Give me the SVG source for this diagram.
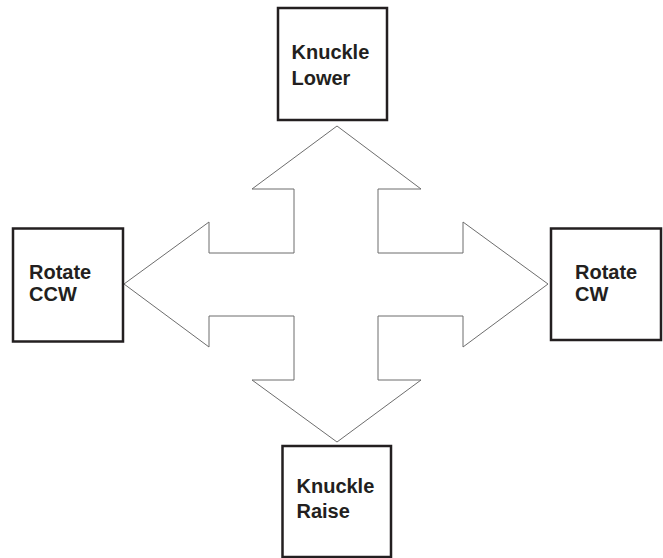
<svg xmlns="http://www.w3.org/2000/svg" width="663" height="558" viewBox="0 0 663 558">
<style>
.box{fill:#fff;stroke:#231f20;stroke-width:2.5}
.lbl{font-family:"Liberation Sans",Arial,sans-serif;font-weight:bold;font-size:20px;fill:#231f20}
.cross{fill:#fff;stroke:#6d6d6d;stroke-width:1}
</style>
<rect width="663" height="558" fill="#fff"/>
<g id="connectors">
<polygon class="cross" points="337,126 421,189 378,189 378,253 463,253 463,222 548,284 463,347 463,316 378,316 378,380 421,380 337,442 252,380 294,380 294,316 209,316 209,347 124,284 209,222 209,253 294,253 294,189 252,189"/>
</g>
<g id="knuckle-lower">
<rect class="box" x="278" y="8" width="109" height="112"/>
<text class="lbl" x="291.5" y="59">Knuckle</text>
<text class="lbl" x="291.5" y="85">Lower</text>
</g>
<g id="rotate-ccw">
<rect class="box" x="13" y="228.5" width="110" height="113"/>
<text class="lbl" x="29" y="279">Rotate</text>
<text class="lbl" x="29" y="301">CCW</text>
</g>
<g id="rotate-cw">
<rect class="box" x="551" y="228.5" width="110" height="111.5"/>
<text class="lbl" x="575" y="279">Rotate</text>
<text class="lbl" x="575" y="301">CW</text>
</g>
<g id="knuckle-raise">
<rect class="box" x="282.5" y="446" width="108.5" height="111"/>
<text class="lbl" x="296.5" y="493">Knuckle</text>
<text class="lbl" x="296.5" y="518">Raise</text>
</g>
</svg>
